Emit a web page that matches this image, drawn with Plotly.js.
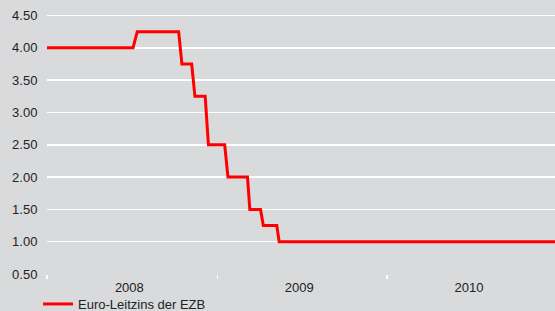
<!DOCTYPE html>
<html><head><meta charset="utf-8">
<script src="https://cdn.plot.ly/plotly-3.0.1.min.js"></script>
<style>html,body{margin:0;padding:0;background:#d9dadb;}</style>
</head><body>
<div id="chart" style="width:555px;height:311px;"></div>
<script>
const dates = ["2008-01-01","2008-07-04","2008-07-13","2008-10-10","2008-10-17","2008-11-07","2008-11-14","2008-12-06","2008-12-13","2009-01-17","2009-01-24","2009-03-07","2009-03-12","2009-04-04","2009-04-10","2009-05-09","2009-05-14","2010-12-31"];
const rates = [4.00,4.00,4.25,4.25,3.75,3.75,3.25,3.25,2.50,2.50,2.00,2.00,1.50,1.50,1.25,1.25,1.00,1.00];
const seriesName = "Euro-Leitzins der EZB";
const yearLabelPos = ["2008-06-26","2009-06-26","2010-06-26"];
const yearLabels = ["2008","2009","2010"];

const bg = "#d9dadb";
Plotly.newPlot("chart", [{
  x: dates, y: rates, type: "scatter", mode: "lines", name: seriesName,
  line: {color: "#ff0000", width: 3}
}], {
  width: 555, height: 311,
  margin: {l: 47, r: 0, t: 0, b: 37},
  paper_bgcolor: bg, plot_bgcolor: bg,
  font: {family: "Liberation Sans, Arial, sans-serif", size: 13, color: "#222"},
  showlegend: true,
  legend: {orientation: "h", x: 0.0685, xref: "container", xanchor: "left", y: 0.0225, yref: "container", yanchor: "middle", bgcolor: "rgba(0,0,0,0)", font: {size: 13, color: "#222"}},
  xaxis: {
    type: "date", range: ["2008-01-01", "2010-12-28"],
    tickvals: yearLabelPos, ticktext: yearLabels, ticks: "", ticklabelstandoff: 4,
    showgrid: false, zeroline: false, showline: false, automargin: false,
    minor: {tick0: "2008-01-01", dtick: "M12", ticks: "outside", ticklen: 4, tickcolor: "#ffffff", tickwidth: 1.5, showgrid: false}
  },
  yaxis: {
    range: [0.5, 4.74], tick0: 0.5, dtick: 0.5, tickformat: ".2f", automargin: false,
    showgrid: true, gridcolor: "#ffffff", gridwidth: 1.5, zeroline: false, showline: false,
    ticks: "outside", ticklen: 6, tickcolor: "rgba(0,0,0,0)"
  }
}, {displayModeBar: false, staticPlot: true});
</script>
</body></html>
